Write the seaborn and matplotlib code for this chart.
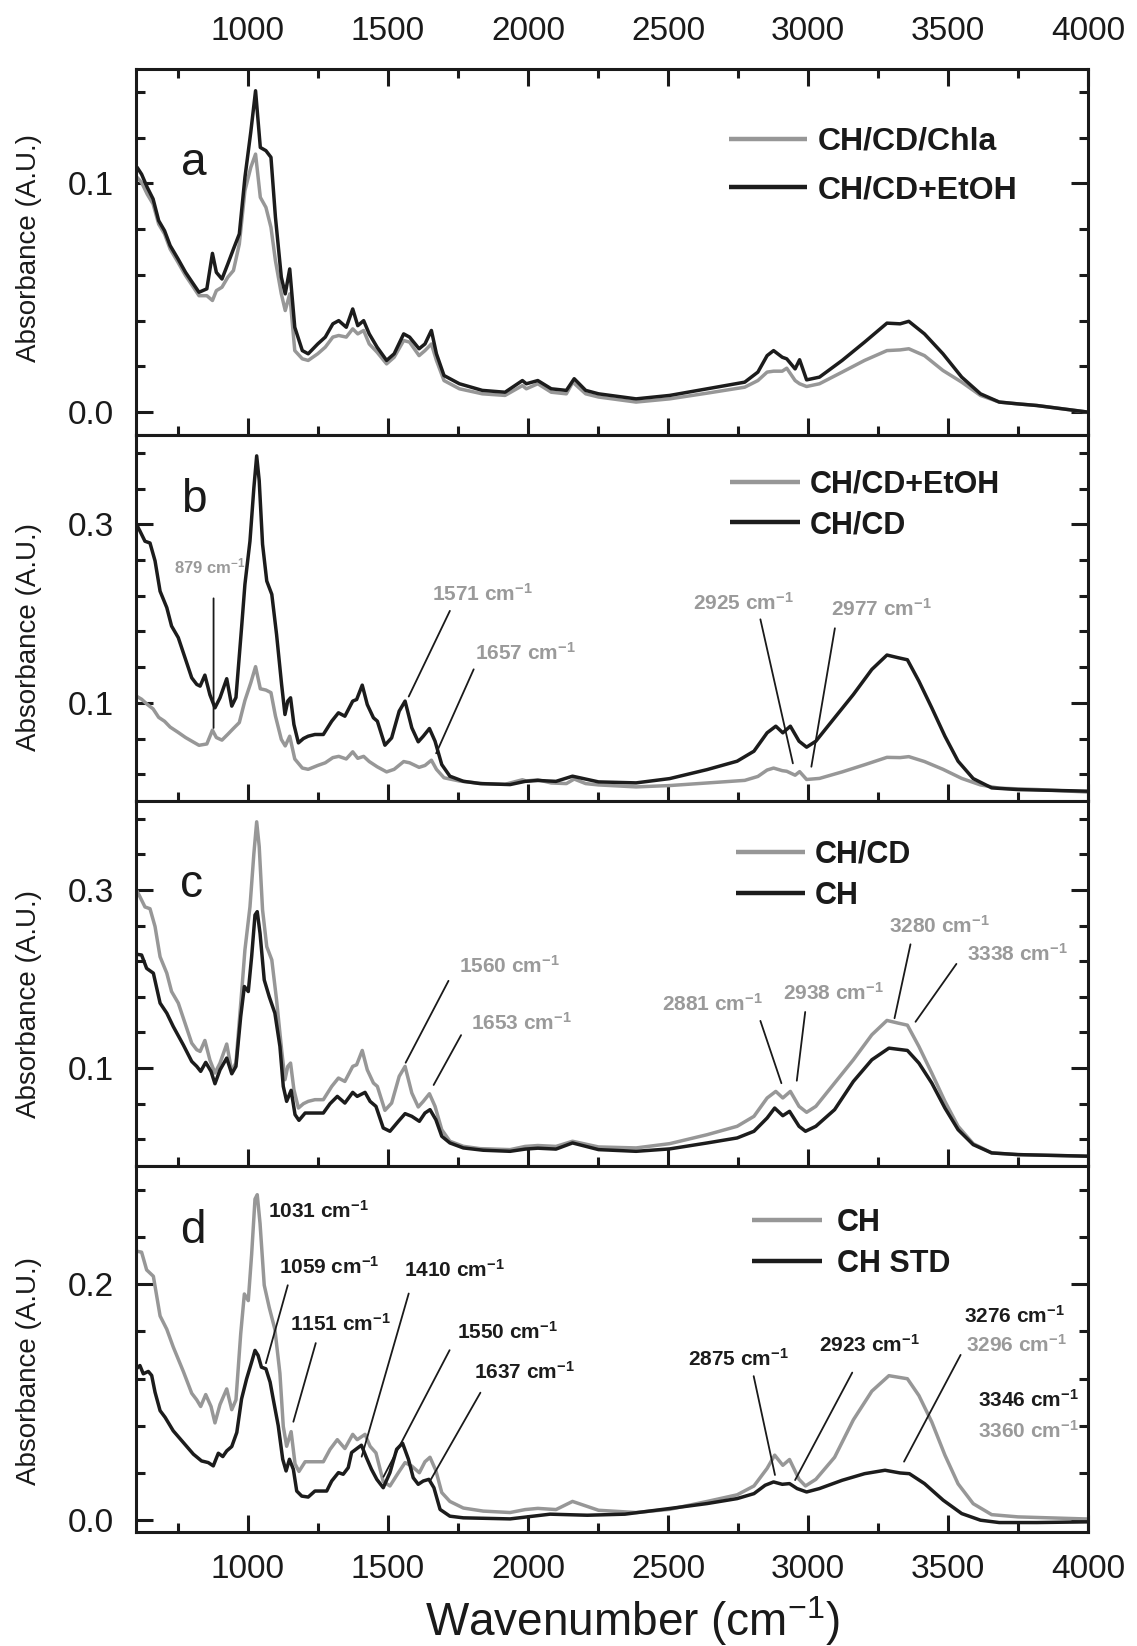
import numpy as np
import pandas as pd
import matplotlib
matplotlib.use('Agg')
import matplotlib.pyplot as plt
import seaborn as sns
from matplotlib.ticker import FixedLocator, MultipleLocator, FormatStrFormatter

# ---------------- data: (wavenumber cm-1, absorbance) ----------------
CHLA = [(604,0.1026),(620,0.1004),(640,0.0953),(661,0.091),(681,0.0822),(702,0.0779),(722,0.0713),
        (750,0.0655),(777,0.0597),(805,0.0546),(825,0.0509),(853,0.0509),(873,0.0488),(887,0.0531),
        (907,0.0546),(928,0.059),(948,0.0619),(969,0.0735),(989,0.0968),(1010,0.107),(1027,0.1128),
        (1044,0.0939),(1064,0.0895),(1082,0.0808),(1098,0.0662),(1119,0.0517),(1133,0.0444),(1149,0.0517),
        (1167,0.0269),(1194,0.0233),(1215,0.0226),(1249,0.0255),(1276,0.0284),(1303,0.0328),(1324,0.0335),
        (1351,0.0328),(1374,0.0364),(1392,0.0342),(1413,0.0357),(1433,0.0298),(1461,0.0262),(1495,0.0211),
        (1522,0.024),(1556,0.0313),(1577,0.0306),(1611,0.0247),(1632,0.0269),(1655,0.0298),(1673,0.0226),
        (1700,0.0138),(1755,0.0102),(1837,0.008),(1918,0.0073),(1980,0.0116),(1994,0.0102),(2035,0.0124),
        (2083,0.0087),(2137,0.008),(2160,0.0131),(2206,0.008),(2252,0.0066),(2386,0.0044),(2506,0.0058),
        (2640,0.0083),(2774,0.0109),(2821,0.0138),(2854,0.0175),(2877,0.0179),(2908,0.0179),(2924,0.0192),
        (2954,0.0138),(2970,0.0124),(2995,0.0112),(3041,0.0124),(3122,0.0175),(3202,0.0226),(3282,0.0269),
        (3329,0.0272),(3360,0.0277),(3416,0.0247),(3482,0.0182),(3549,0.0131),(3616,0.0073),(3683,0.0044),
        (3750,0.0036),(3817,0.0029),(4000,0.0)]

ETOH = [(604,0.107),(620,0.104),(640,0.0983),(661,0.0932),(681,0.0837),(702,0.0793),(722,0.0728),
        (750,0.067),(777,0.0611),(805,0.056),(825,0.0524),(853,0.0539),(873,0.0694),(887,0.0611),
        (907,0.0582),(928,0.0648),(948,0.0713),(969,0.0779),(989,0.1026),(1010,0.1225),(1027,0.1405),
        (1044,0.1157),(1064,0.1143),(1082,0.1114),(1098,0.0852),(1119,0.059),(1133,0.0517),(1149,0.0626),
        (1167,0.0371),(1194,0.0269),(1215,0.0255),(1249,0.0298),(1276,0.0328),(1303,0.0386),(1324,0.04),
        (1351,0.0371),(1374,0.0451),(1392,0.0378),(1413,0.04),(1433,0.0342),(1461,0.0284),(1495,0.0226),
        (1522,0.0255),(1556,0.0342),(1577,0.0328),(1611,0.0277),(1632,0.0298),(1655,0.0357),(1673,0.0255),
        (1700,0.016),(1755,0.0124),(1837,0.0095),(1918,0.0087),(1980,0.0138),(1994,0.0124),(2035,0.0138),
        (2083,0.0102),(2137,0.0095),(2165,0.0146),(2206,0.0095),(2252,0.008),(2386,0.0058),(2506,0.0073),
        (2640,0.0102),(2774,0.0131),(2821,0.0175),(2854,0.0247),(2877,0.0269),(2908,0.024),(2924,0.0233),
        (2954,0.0189),(2970,0.0229),(2995,0.0141),(3041,0.0153),(3122,0.0226),(3202,0.0306),(3282,0.0389),
        (3329,0.0386),(3360,0.0397),(3416,0.0342),(3482,0.0255),(3549,0.0153),(3616,0.008),(3683,0.0044),
        (3750,0.0036),(3817,0.0029),(4000,0.0)]

CHCD = [(600,0.301),(614,0.2925),(632,0.281),(650,0.279),(668,0.259),(686,0.225),(710,0.2066),(727,0.186),
        (751,0.173),(775,0.1505),(799,0.128),(817,0.1206),(829,0.1187),(846,0.131),(864,0.109),(882,0.0944),
        (900,0.1056),(924,0.127),(942,0.0963),(957,0.106),(977,0.184),(989,0.2327),(1007,0.281),(1021,0.341),
        (1031,0.3766),(1040,0.349),(1052,0.2776),(1067,0.2364),(1085,0.2215),(1102,0.1766),(1120,0.1206),
        (1132,0.0869),(1142,0.1019),(1152,0.1056),(1164,0.0757),(1180,0.0551),(1198,0.06),(1215,0.0626),
        (1239,0.0645),(1269,0.0645),(1299,0.0794),(1323,0.0888),(1346,0.085),(1374,0.1019),(1388,0.1037),
        (1408,0.1198),(1426,0.098),(1448,0.0832),(1462,0.0794),(1489,0.0525),(1513,0.0607),(1540,0.0907),
        (1561,0.1019),(1585,0.072),(1608,0.0563),(1626,0.0626),(1648,0.0712),(1668,0.057),(1692,0.0308),
        (1721,0.0178),(1769,0.0121),(1829,0.0095),(1936,0.0084),(1990,0.012),(2035,0.013),(2100,0.012),
        (2159,0.0178),(2252,0.0114),(2386,0.0103),(2506,0.0151),(2640,0.0252),(2747,0.0346),(2807,0.0458),
        (2854,0.0664),(2885,0.0738),(2910,0.0664),(2937,0.0738),(2968,0.057),(2995,0.0503),(3028,0.057),
        (3095,0.0832),(3162,0.1093),(3228,0.1374),(3282,0.1535),(3322,0.1505),(3355,0.1482),(3396,0.1243),
        (3442,0.0944),(3489,0.0626),(3536,0.0346),(3590,0.0151),(3656,0.0047),(3750,0.0028),(4000,0.001)]

CH = [(600,0.228),(620,0.227),(638,0.212),(662,0.2066),(686,0.173),(710,0.1617),(733,0.1467),(769,0.126),
      (799,0.1075),(817,0.1019),(831,0.0963),(849,0.1064),(868,0.0963),(882,0.0824),(900,0.098),(924,0.1112),
      (942,0.0936),(957,0.1019),(974,0.158),(987,0.1916),(1001,0.186),(1013,0.2252),(1025,0.272),(1033,0.2757),
      (1043,0.2514),(1058,0.199),(1076,0.18),(1096,0.1617),(1114,0.1243),(1126,0.0794),(1138,0.0626),
      (1154,0.075),(1168,0.0477),(1182,0.0413),(1204,0.0495),(1233,0.0495),(1269,0.0495),(1293,0.06),
      (1319,0.0682),(1346,0.0607),(1374,0.0727),(1390,0.0682),(1418,0.0727),(1436,0.0626),(1457,0.057),
      (1483,0.0327),(1507,0.029),(1537,0.0402),(1561,0.0488),(1585,0.0458),(1612,0.0402),(1632,0.0495),
      (1650,0.0533),(1671,0.042),(1692,0.0234),(1721,0.0159),(1769,0.0103),(1840,0.0077),(1936,0.0065),
      (1990,0.009),(2035,0.010),(2100,0.009),(2159,0.0159),(2252,0.0084),(2386,0.0065),(2506,0.0092),
      (2640,0.0159),(2747,0.0215),(2807,0.029),(2854,0.0439),(2881,0.0551),(2910,0.0465),(2934,0.0514),
      (2968,0.0346),(2991,0.029),(3028,0.0346),(3095,0.0533),(3162,0.085),(3228,0.1093),(3289,0.1224),
      (3355,0.1198),(3396,0.1056),(3442,0.0832),(3489,0.0551),(3536,0.0308),(3590,0.014),(3656,0.0047),
      (3750,0.0028),(4000,0.001)]

CH_STD = [(600,0.128),(614,0.131),(626,0.124),(644,0.126),(656,0.1226),(668,0.1084),(686,0.0928),(704,0.0871),
          (733,0.0757),(769,0.0658),(805,0.0559),(834,0.0502),(858,0.0488),(876,0.046),(894,0.0567),(910,0.0539),
          (924,0.0587),(942,0.0624),(960,0.0743),(977,0.1027),(995,0.1197),(1013,0.1339),(1025,0.1438),
          (1036,0.1396),(1048,0.1296),(1064,0.1282),(1079,0.1169),(1090,0.1027),(1108,0.08),(1124,0.0516),
          (1136,0.0417),(1148,0.0516),(1162,0.0431),(1174,0.0247),(1192,0.0204),(1215,0.0196),(1239,0.0247),
          (1263,0.0247),(1281,0.0247),(1299,0.0332),(1323,0.0403),(1340,0.0389),(1358,0.0445),(1370,0.0573),
          (1394,0.0616),(1405,0.0635),(1423,0.053),(1441,0.0431),(1460,0.0346),(1483,0.0275),(1507,0.0403),
          (1531,0.0601),(1552,0.0652),(1573,0.0516),(1590,0.036),(1608,0.0304),(1626,0.0332),(1646,0.0346),
          (1664,0.0275),(1686,0.0091),(1721,0.0034),(1769,0.002),(1936,0.0011),(2079,0.0051),(2212,0.0042),
          (2346,0.0051),(2506,0.0099),(2640,0.0141),(2747,0.0183),(2807,0.0225),(2847,0.0296),(2877,0.0324),
          (2908,0.0304),(2934,0.031),(2961,0.0268),(2995,0.0239),(3041,0.0268),(3122,0.0338),(3202,0.0394),
          (3275,0.0423),(3329,0.04),(3362,0.0394),(3416,0.031),(3483,0.0169),(3549,0.0056),(3616,0.0),
          (3683,-0.002),(3817,-0.002),(4000,-0.0014)]

X_TICKS = [1000, 1500, 2000, 2500, 3000, 3500, 4000]
PANEL_LETTERS = ['a', 'b', 'c', 'd']

# ---------------- style ----------------
sns.set_style('ticks')
plt.rcParams['font.family'] = ['Liberation Sans', 'DejaVu Sans']
plt.rcParams['mathtext.fontset'] = 'custom'
plt.rcParams['mathtext.rm'] = 'Liberation Sans'
plt.rcParams['mathtext.bf'] = 'Liberation Sans:bold'
plt.rcParams['mathtext.it'] = 'Liberation Sans:italic'
plt.rcParams['mathtext.sf'] = 'Liberation Sans'

GRAY = '#979797'
BLACK = '#1c1c1c'
TGRAY = '#9a9a9a'
LW = 2.5

def frame(pts):
    return pd.DataFrame(pts, columns=['wavenumber', 'absorbance'])

def cm(num):
    return f'{num} cm$^{{\\mathbf{{-1}}}}$'

fig = plt.figure(figsize=(11.37, 16.46), dpi=100)
W, H = 1137.0, 1646.0
left_px, right_px = 136, 1088
tops = [69, 435, 801, 1166, 1532]

panels = [
    dict(series=[(CHLA, 'CH/CD/Chla', GRAY), (ETOH, 'CH/CD+EtOH', BLACK)],
         ylim=(-0.01, 0.15), major=[0.0, 0.1], minor=np.arange(0.02, 0.15, 0.02),
         letter_pos=(0.047, 0.710), ylab_y=0.512,
         leg=dict(x=0.623, y=0.842, fs=23, hl=2.45, tp=0.32, ls=0.57),
         ann=[]),
    dict(series=[(ETOH, 'CH/CD+EtOH', GRAY), (CHCD, 'CH/CD', BLACK)],
         ylim=(-0.01, 0.40), major=[0.1, 0.3], minor=np.arange(0.02, 0.40, 0.04),
         letter_pos=(0.047, 0.790), ylab_y=0.448,
         leg=dict(x=0.624, y=0.905, fs=22, hl=2.28, tp=0.32, ls=0.34),
         ann=[(879, TGRAY, (736, 0.245), (877, 0.217), (877, 0.0718), 12),
              (1571, TGRAY, (1657, 0.214), (1721, 0.203), (1574, 0.107), 15),
              (1657, TGRAY, (1809, 0.148), (1806, 0.1375), (1672, 0.0434), 15),
              (2925, TGRAY, (2591, 0.204), (2830, 0.1935), (2946, 0.0322), 15),
              (2977, TGRAY, (3082, 0.197), (3096, 0.1835), (3012, 0.0284), 15)]),
    dict(series=[(CHCD, 'CH/CD', GRAY), (CH, 'CH', BLACK)],
         ylim=(-0.01, 0.40), major=[0.1, 0.3], minor=np.arange(0.02, 0.40, 0.04),
         letter_pos=(0.046, 0.738), ylab_y=0.444,
         leg=dict(x=0.630, y=0.894, fs=22, hl=2.28, tp=0.32, ls=0.37),
         ann=[(1560, TGRAY, (1754, 0.207), (1716, 0.198), (1563, 0.106), 15),
              (1653, TGRAY, (1795, 0.143), (1761, 0.137), (1663, 0.081), 15),
              (2881, TGRAY, (2477, 0.164), (2830, 0.153), (2905, 0.083), 15),
              (2938, TGRAY, (2912, 0.177), (2990, 0.163), (2960, 0.0858), 15),
              (3280, TGRAY, (3288, 0.252), (3366, 0.239), (3309, 0.156), 15),
              (3338, TGRAY, (3568, 0.220), (3530, 0.217), (3384, 0.152), 15)]),
    dict(series=[(CH, 'CH', GRAY), (CH_STD, 'CH STD', BLACK)],
         ylim=(-0.01, 0.30), major=[0.0, 0.2], minor=np.arange(0.04, 0.30, 0.04),
         letter_pos=(0.046, 0.789), ylab_y=0.44,
         leg=dict(x=0.647, y=0.886, fs=22, hl=2.28, tp=0.5, ls=0.37),
         ann=[(1031, BLACK, (1071, 0.256), None, None, 15),
              (1059, BLACK, (1112, 0.209), (1142, 0.199), (1064, 0.133), 15),
              (1151, BLACK, (1149, 0.160), (1242, 0.150), (1162, 0.0834), 15),
              (1410, BLACK, (1556, 0.206), (1574, 0.192), (1406, 0.0538), 15),
              (1550, BLACK, (1748, 0.154), (1720, 0.144), (1484, 0.0368), 15),
              (1637, BLACK, (1806, 0.120), (1830, 0.108), (1652, 0.034), 15),
              (2875, BLACK, (2573, 0.131), (2806, 0.122), (2882, 0.0383), 15),
              (2923, BLACK, (3039, 0.143), (3158, 0.125), (2954, 0.034), 15),
              (3276, BLACK, (3557, 0.167), None, None, 15),
              (3296, TGRAY, (3566, 0.143), (3545, 0.140), (3343, 0.0496), 15),
              (3346, BLACK, (3607, 0.096), None, None, 15),
              (3360, TGRAY, (3607, 0.0696), None, None, 15)]),
]

axes = []
for i, p in enumerate(panels):
    top, bot = tops[i], tops[i + 1]
    ax = fig.add_axes([left_px / W, 1 - bot / H, (right_px - left_px) / W, (bot - top) / H],
                      sharex=axes[0] if axes else None)
    axes.append(ax)
    for pts, lab, col in p['series']:
        sns.lineplot(data=frame(pts), x='wavenumber', y='absorbance', ax=ax, color=col,
                     lw=LW, label=lab, estimator=None, sort=True)
    ax.set_xlim(600, 4000)
    ax.set_ylim(*p['ylim'])
    ax.xaxis.set_major_locator(FixedLocator(X_TICKS))
    ax.xaxis.set_minor_locator(MultipleLocator(250))
    ax.yaxis.set_major_locator(FixedLocator(p['major']))
    ax.yaxis.set_minor_locator(FixedLocator(list(p['minor'])))
    ax.yaxis.set_major_formatter(FormatStrFormatter('%.1f'))
    for s in ax.spines.values():
        s.set_linewidth(2.2)
        s.set_color('#1a1a1a')
        s.set_visible(True)
    ax.tick_params(axis='both', which='both', direction='in', width=2.2, color='#1a1a1a',
                   labelsize=24, labelcolor='#1a1a1a', pad=16,
                   left=True, right=True, labelright=False,
                   bottom=True, top=(i == 0), labeltop=(i == 0), labelbottom=(i == 3))
    ax.tick_params(which='major', length=12.5)
    ax.tick_params(which='minor', length=6.8)
    ax.set_xlabel('')
    ax.set_ylabel('Absorbance (A.U.)', fontsize=20, color='#1a1a1a')
    ax.yaxis.set_label_coords(-0.099, p['ylab_y'])
    ax.text(p['letter_pos'][0], p['letter_pos'][1], PANEL_LETTERS[i], transform=ax.transAxes,
            fontsize=33, ha='left', va='baseline', color='#1a1a1a')
    lg = p['leg']
    handles, labels = ax.get_legend_handles_labels()
    leg = ax.legend(handles, labels, loc='upper left', bbox_to_anchor=(lg['x'], lg['y']),
                    frameon=False, borderpad=0, borderaxespad=0, handlelength=lg['hl'],
                    handletextpad=lg['tp'], labelspacing=lg['ls'],
                    prop=dict(family=['Liberation Sans', 'DejaVu Sans'], weight='bold', size=lg['fs']))
    for h in leg.get_lines():
        h.set_linewidth(3.2)
        h.set_solid_capstyle('butt')
    for t in leg.get_texts():
        t.set_color('#1a1a1a')
    for num, col, txy, l0, l1, fs in p['ann']:
        ax.text(txy[0], txy[1], cm(num), color=col, fontsize=fs, fontweight='bold',
                ha='left', va='baseline')
        if l0 is not None:
            ax.annotate('', xy=l1, xytext=l0,
                        arrowprops=dict(arrowstyle='-', color='#1a1a1a', lw=1.3,
                                        shrinkA=0, shrinkB=0))

axd = axes[3]
axd.set_xlabel('Wavenumber (cm$^{-1}$)', fontsize=33, color='#1a1a1a')
axd.xaxis.set_label_coords((632 - left_px) / (right_px - left_px), (1532 - 1636) / 366.0)
axd.xaxis.label.set_va('baseline')

fig.savefig('out.png', dpi=100)
